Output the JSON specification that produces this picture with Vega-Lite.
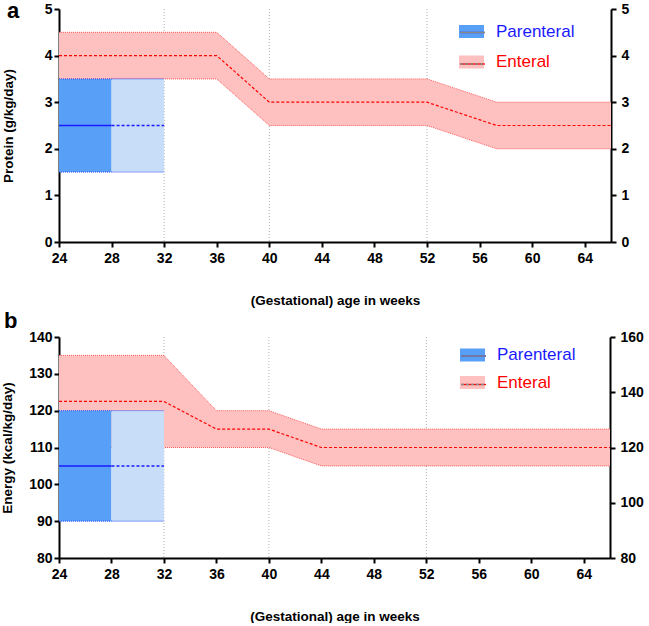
{
  "$schema": "https://vega.github.io/schema/vega-lite/v6.json",
  "padding": {"left": 0, "top": 0, "right": 0, "bottom": 0},
  "spacing": 3,
  "resolve": {"scale": {"fill": "independent", "stroke": "independent", "strokeDash": "independent"}},
  "datasets": {
    "entA": [
      {"week": 24, "lo": 3.5, "mean": 4, "hi": 4.5, "series": "Enteral"},
      {"week": 36, "lo": 3.5, "mean": 4, "hi": 4.5, "series": "Enteral"},
      {"week": 40, "lo": 2.5, "mean": 3, "hi": 3.5, "series": "Enteral"},
      {"week": 52, "lo": 2.5, "mean": 3, "hi": 3.5, "series": "Enteral"},
      {"week": 57.3, "lo": 2, "mean": 2.5, "hi": 3, "series": "Enteral"},
      {"week": 66, "lo": 2, "mean": 2.5, "hi": 3, "series": "Enteral"}
    ],
    "parA": [
      {"start": 24, "end": 28, "lo": 1.5, "mean": 2.5, "hi": 3.5, "phase": "early", "series": "Parenteral"},
      {"start": 28, "end": 32, "lo": 1.5, "mean": 2.5, "hi": 3.5, "phase": "late", "series": "Parenteral"}
    ],
    "entB": [
      {"week": 24, "lo": 110, "mean": 122.5, "hi": 135, "series": "Enteral"},
      {"week": 32, "lo": 110, "mean": 122.5, "hi": 135, "series": "Enteral"},
      {"week": 36, "lo": 110, "mean": 115, "hi": 120, "series": "Enteral"},
      {"week": 40, "lo": 110, "mean": 115, "hi": 120, "series": "Enteral"},
      {"week": 44, "lo": 105, "mean": 110, "hi": 115, "series": "Enteral"},
      {"week": 66, "lo": 105, "mean": 110, "hi": 115, "series": "Enteral"}
    ],
    "parB": [
      {"start": 24, "end": 28, "lo": 90, "mean": 105, "hi": 120, "phase": "early", "series": "Parenteral"},
      {"start": 28, "end": 32, "lo": 90, "mean": 105, "hi": 120, "phase": "late", "series": "Parenteral"}
    ],
    "grid": [{"week": 32}, {"week": 40}, {"week": 52}],
    "rightA": [{"v": 0}, {"v": 5}],
    "rightB": [{"v": 80}, {"v": 160}]
  },
  "vconcat": [
    {
      "width": 552,
      "height": 233,
      "resolve": {"scale": {"y": "independent"}},
      "layer": [
        {
          "layer": [
            {
              "data": {"name": "grid"},
              "mark": {"type": "rule", "color": "#9a9a9a", "strokeDash": [1, 2], "strokeWidth": 0.8},
              "encoding": {
                "x": {"field": "week", "type": "quantitative", "scale": {"domain": [24, 66], "nice": false, "zero": false},
                  "axis": {"values": [24, 28, 32, 36, 40, 44, 48, 52, 56, 60, 64], "title": "(Gestational) age in weeks", "titlePadding": 28}}
              }
            },
            {
              "data": {"name": "entA"},
              "mark": {"type": "area", "opacity": 1},
              "encoding": {
                "x": {"field": "week", "type": "quantitative"},
                "y": {"field": "lo", "type": "quantitative", "scale": {"domain": [0, 5], "nice": false, "zero": false},
                  "axis": {"values": [0, 1, 2, 3, 4, 5], "tickCount": 6, "title": "Protein (g/kg/day)", "titlePadding": 29, "labelPadding": 2}},
                "y2": {"field": "hi"},
                "fill": {"field": "series", "type": "nominal", "scale": {"domain": ["Parenteral", "Enteral"], "range": ["#58a0f7", "#ffc0c0"]},
                  "legend": {"title": null, "orient": "none", "legendX": 400, "legendY": 10, "padding": 0, "symbolType": "M-1,-0.52H1V0.52H-1Z", "symbolSize": 625, "symbolStrokeWidth": 0, "symbolOpacity": 1, "labelFontSize": 17, "labelFont": "Liberation Sans", "labelOffset": 12, "rowPadding": 9.5,
                    "encode": {"labels": {"update": {"fill": {"signal": "datum.label === 'Parenteral' ? '#1a1aff' : '#ff0000'"}}}}}}
              }
            },
            {
              "data": {"name": "entA"},
              "mark": {"type": "line", "color": "#ff5a5a", "strokeDash": [1, 1], "strokeWidth": 1},
              "encoding": {"x": {"field": "week", "type": "quantitative"}, "y": {"field": "lo", "type": "quantitative"}}
            },
            {
              "data": {"name": "entA"},
              "mark": {"type": "line", "color": "#ff5a5a", "strokeDash": [1, 1], "strokeWidth": 1},
              "encoding": {"x": {"field": "week", "type": "quantitative"}, "y": {"field": "hi", "type": "quantitative"}}
            },
            {
              "data": {"name": "parA"},
              "mark": {"type": "rect", "opacity": 1},
              "encoding": {
                "x": {"field": "start", "type": "quantitative"},
                "x2": {"field": "end"},
                "y": {"field": "lo", "type": "quantitative"},
                "y2": {"field": "hi"},
                "fill": {"condition": {"test": "datum.phase === 'late'", "value": "#c8ddf7"}, "field": "series", "type": "nominal"}
              }
            },
            {
              "data": {"name": "parA"},
              "mark": {"type": "rule", "color": "#2a4cff", "strokeDash": [1, 1], "strokeWidth": 1},
              "encoding": {"x": {"field": "start", "type": "quantitative"}, "x2": {"field": "end"}, "y": {"field": "lo", "type": "quantitative"}}
            },
            {
              "data": {"name": "parA"},
              "mark": {"type": "rule", "color": "#2a4cff", "strokeDash": [1, 1], "strokeWidth": 1},
              "encoding": {"x": {"field": "start", "type": "quantitative"}, "x2": {"field": "end"}, "y": {"field": "hi", "type": "quantitative"}}
            },
            {
              "data": {"name": "parA"},
              "mark": {"type": "rule", "strokeWidth": 1.5},
              "encoding": {
                "x": {"field": "start", "type": "quantitative"},
                "x2": {"field": "end"},
                "y": {"field": "mean", "type": "quantitative"},
                "stroke": {"field": "series", "type": "nominal", "sort": ["Parenteral", "Enteral"], "scale": {"range": ["#1a1aff", "#ff0000"]},
                  "legend": {"title": null, "orient": "none", "legendX": 400, "legendY": 10, "padding": 0, "symbolType": "stroke", "symbolSize": 625, "symbolStrokeWidth": 1.3, "labelFontSize": 17, "labelFont": "Liberation Sans", "labelOffset": 12, "rowPadding": 9.5, "labelExpr": "''"}},
                "strokeDash": {"condition": {"test": "datum.phase === 'late'", "value": [3, 2]}, "field": "series", "type": "nominal", "sort": ["Parenteral", "Enteral"], "scale": {"range": [[1, 0], [3, 2]]},
                  "legend": {"title": null, "orient": "none", "legendX": 400, "legendY": 10, "padding": 0, "symbolType": "stroke", "symbolSize": 625, "symbolStrokeWidth": 1.3, "labelFontSize": 17, "labelFont": "Liberation Sans", "labelOffset": 12, "rowPadding": 9.5, "labelExpr": "''"}}
              }
            },
            {
              "data": {"name": "entA"},
              "mark": {"type": "line", "strokeWidth": 1.2},
              "encoding": {
                "x": {"field": "week", "type": "quantitative"},
                "y": {"field": "mean", "type": "quantitative"},
                "stroke": {"field": "series", "type": "nominal", "sort": ["Parenteral", "Enteral"]},
                "strokeDash": {"field": "series", "type": "nominal", "sort": ["Parenteral", "Enteral"]}
              }
            },
            {
              "data": {"values": [{"panel": "a"}]},
              "mark": {"type": "text", "dx": -52, "dy": 9, "align": "left", "baseline": "alphabetic", "fontSize": 22, "fontWeight": "bold", "font": "Liberation Sans", "color": "black"},
              "encoding": {"x": {"datum": 24}, "y": {"datum": 5}, "text": {"field": "panel", "type": "nominal"}}
            }
          ]
        },
        {
          "data": {"name": "rightA"},
          "mark": {"type": "point", "opacity": 0},
          "encoding": {
            "y": {"field": "v", "type": "quantitative", "scale": {"domain": [0, 5], "nice": false, "zero": false},
              "axis": {"orient": "right", "title": null, "values": [0, 1, 2, 3, 4, 5], "labelPadding": 5}}
          }
        }
      ]
    },
    {
      "width": 551,
      "height": 221,
      "resolve": {"scale": {"y": "independent"}},
      "layer": [
        {
          "layer": [
            {
              "data": {"name": "grid"},
              "mark": {"type": "rule", "color": "#9a9a9a", "strokeDash": [1, 2], "strokeWidth": 0.8},
              "encoding": {
                "x": {"field": "week", "type": "quantitative", "scale": {"domain": [24, 66], "nice": false, "zero": false},
                  "axis": {"values": [24, 28, 32, 36, 40, 44, 48, 52, 56, 60, 64], "title": "(Gestational) age in weeks", "titlePadding": 28}}
              }
            },
            {
              "data": {"name": "entB"},
              "mark": {"type": "area", "opacity": 1},
              "encoding": {
                "x": {"field": "week", "type": "quantitative"},
                "y": {"field": "lo", "type": "quantitative", "scale": {"domain": [80, 140], "nice": false, "zero": false},
                  "axis": {"values": [80, 90, 100, 110, 120, 130, 140], "tickCount": 7, "title": "Energy (kcal/kg/day)", "titlePadding": 14, "labelPadding": 2}},
                "y2": {"field": "hi"},
                "fill": {"field": "series", "type": "nominal", "scale": {"domain": ["Parenteral", "Enteral"], "range": ["#58a0f7", "#ffc0c0"]},
                  "legend": {"title": null, "orient": "none", "legendX": 401, "legendY": 5.5, "padding": 0, "symbolType": "M-1,-0.52H1V0.52H-1Z", "symbolSize": 625, "symbolStrokeWidth": 0, "symbolOpacity": 1, "labelFontSize": 17, "labelFont": "Liberation Sans", "labelOffset": 12, "rowPadding": 6.5,
                    "encode": {"labels": {"update": {"fill": {"signal": "datum.label === 'Parenteral' ? '#1a1aff' : '#ff0000'"}}}}}}
              }
            },
            {
              "data": {"name": "entB"},
              "mark": {"type": "line", "color": "#ff5a5a", "strokeDash": [1, 1], "strokeWidth": 1},
              "encoding": {"x": {"field": "week", "type": "quantitative"}, "y": {"field": "lo", "type": "quantitative"}}
            },
            {
              "data": {"name": "entB"},
              "mark": {"type": "line", "color": "#ff5a5a", "strokeDash": [1, 1], "strokeWidth": 1},
              "encoding": {"x": {"field": "week", "type": "quantitative"}, "y": {"field": "hi", "type": "quantitative"}}
            },
            {
              "data": {"name": "parB"},
              "mark": {"type": "rect", "opacity": 1},
              "encoding": {
                "x": {"field": "start", "type": "quantitative"},
                "x2": {"field": "end"},
                "y": {"field": "lo", "type": "quantitative"},
                "y2": {"field": "hi"},
                "fill": {"condition": {"test": "datum.phase === 'late'", "value": "#c8ddf7"}, "field": "series", "type": "nominal"}
              }
            },
            {
              "data": {"name": "parB"},
              "mark": {"type": "rule", "color": "#2a4cff", "strokeDash": [1, 1], "strokeWidth": 1},
              "encoding": {"x": {"field": "start", "type": "quantitative"}, "x2": {"field": "end"}, "y": {"field": "lo", "type": "quantitative"}}
            },
            {
              "data": {"name": "parB"},
              "mark": {"type": "rule", "color": "#2a4cff", "strokeDash": [1, 1], "strokeWidth": 1},
              "encoding": {"x": {"field": "start", "type": "quantitative"}, "x2": {"field": "end"}, "y": {"field": "hi", "type": "quantitative"}}
            },
            {
              "data": {"name": "parB"},
              "mark": {"type": "rule", "strokeWidth": 1.5},
              "encoding": {
                "x": {"field": "start", "type": "quantitative"},
                "x2": {"field": "end"},
                "y": {"field": "mean", "type": "quantitative"},
                "stroke": {"field": "series", "type": "nominal", "sort": ["Parenteral", "Enteral"], "scale": {"range": ["#1a1aff", "#ff0000"]},
                  "legend": {"title": null, "orient": "none", "legendX": 401, "legendY": 5.5, "padding": 0, "symbolType": "stroke", "symbolSize": 625, "symbolStrokeWidth": 1.3, "labelFontSize": 17, "labelFont": "Liberation Sans", "labelOffset": 12, "rowPadding": 6.5, "labelExpr": "''"}},
                "strokeDash": {"condition": {"test": "datum.phase === 'late'", "value": [3, 2]}, "field": "series", "type": "nominal", "sort": ["Parenteral", "Enteral"], "scale": {"range": [[1, 0], [3, 2]]},
                  "legend": {"title": null, "orient": "none", "legendX": 401, "legendY": 5.5, "padding": 0, "symbolType": "stroke", "symbolSize": 625, "symbolStrokeWidth": 1.3, "labelFontSize": 17, "labelFont": "Liberation Sans", "labelOffset": 12, "rowPadding": 6.5, "labelExpr": "''"}}
              }
            },
            {
              "data": {"name": "entB"},
              "mark": {"type": "line", "strokeWidth": 1.2},
              "encoding": {
                "x": {"field": "week", "type": "quantitative"},
                "y": {"field": "mean", "type": "quantitative"},
                "stroke": {"field": "series", "type": "nominal", "sort": ["Parenteral", "Enteral"]},
                "strokeDash": {"field": "series", "type": "nominal", "sort": ["Parenteral", "Enteral"]}
              }
            },
            {
              "data": {"values": [{"panel": "b"}]},
              "mark": {"type": "text", "dx": -55, "dy": -9, "align": "left", "baseline": "alphabetic", "fontSize": 22, "fontWeight": "bold", "font": "Liberation Sans", "color": "black"},
              "encoding": {"x": {"datum": 24}, "y": {"datum": 140}, "text": {"field": "panel", "type": "nominal"}}
            }
          ]
        },
        {
          "data": {"name": "rightB"},
          "mark": {"type": "point", "opacity": 0},
          "encoding": {
            "y": {"field": "v", "type": "quantitative", "scale": {"domain": [80, 160], "nice": false, "zero": false},
              "axis": {"orient": "right", "title": null, "values": [80, 100, 120, 140, 160], "labelPadding": 5}}
          }
        }
      ]
    }
  ],
  "config": {
    "view": {"stroke": null},
    "font": "Liberation Sans",
    "axis": {
      "grid": false,
      "labelOverlap": false,
      "labelFlush": false,
      "domainColor": "black",
      "domainWidth": 2,
      "tickColor": "black",
      "tickWidth": 2,
      "tickSize": 5,
      "labelPadding": 3,
      "labelFont": "Liberation Sans",
      "labelFontWeight": "bold",
      "labelFontSize": 14,
      "labelColor": "black",
      "titleFont": "Liberation Sans",
      "titleFontWeight": "bold",
      "titleFontSize": 13.5,
      "titleColor": "black"
    },
    "axisX": {"labelPadding": 4}
  }
}
